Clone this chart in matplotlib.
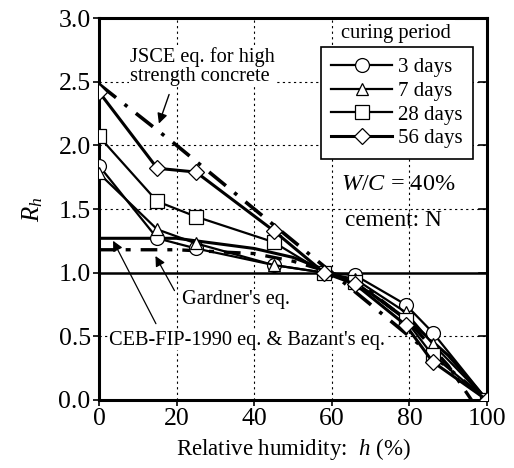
import matplotlib
matplotlib.use("Agg")
import matplotlib.pyplot as plt

plt.rcParams['font.family'] = ['Liberation Serif', 'DejaVu Serif']
plt.rcParams['mathtext.fontset'] = 'custom'
plt.rcParams['mathtext.rm'] = 'Liberation Serif'
plt.rcParams['mathtext.it'] = 'Liberation Serif:italic'

# measured data
h_meas = [0, 15, 25, 45, 58, 66, 79, 86, 100]
r_3d = [1.84, 1.27, 1.19, 1.06, 1.00, 0.98, 0.75, 0.53, 0.00]
r_7d = [1.78, 1.34, 1.23, 1.06, 1.00, 0.95, 0.69, 0.44, 0.00]
r_28d = [2.07, 1.56, 1.44, 1.24, 1.00, 0.93, 0.63, 0.35, 0.00]
r_56d = [2.42, 1.82, 1.79, 1.33, 1.00, 0.91, 0.59, 0.30, 0.00]

# prediction equations
h_jsce = [0, 20, 40, 60, 80, 100]
r_jsce = [2.48, 2.0, 1.5, 1.0, 0.5, 0.0]
h_gard = [0, 20, 40, 50, 60, 70, 80, 90, 96]
r_gard = [1.18, 1.18, 1.15, 1.09, 1.00, 0.85, 0.61, 0.27, 0.0]
h_ceb = [0, 20, 40, 50, 60, 70, 80, 90, 100]
r_ceb = [1.27, 1.27, 1.19, 1.12, 1.00, 0.84, 0.62, 0.35, 0.0]

series_labels = ['3 days', '7 days', '28 days', '56 days']
markers = ['o', '^', 's', 'D']

fig = plt.figure(figsize=(5.14, 4.68), dpi=100)
ax = fig.add_axes([0.1926, 0.1453, 0.7549, 0.8162])
ax.set_xlim(0, 100)
ax.set_ylim(0, 3.0)

for x in [20, 40, 60, 80]:
    ax.axvline(x, color='black', lw=0.8, ls=(0, (2, 3)), zorder=0)
for y in [0.5, 1.5, 2.0, 2.5]:
    ax.axhline(y, color='black', lw=0.8, ls=(0, (2, 3)), zorder=0)
ax.axhline(1.0, color='black', lw=1.8, zorder=1)

# equations
ax.plot(h_jsce, r_jsce, color='black', lw=2.6, ls=(0, (6, 3, 1, 3)), zorder=2)
ax.plot(h_gard, r_gard, color='black', lw=2.4, ls=(0, (5, 3, 1.5, 3)), zorder=2)
ax.plot(h_ceb, r_ceb, color='black', lw=2.2, zorder=2)

series = [r_3d, r_7d, r_28d, r_56d]
lws = [1.6, 1.6, 1.6, 2.2]
sizes = [10, 9, 10, 8]
handles = []
for r, m, lab, lw, ms in zip(series, markers, series_labels, lws, sizes):
    ln, = ax.plot(h_meas, r, color='black', lw=lw, marker=m, ms=ms,
                  mfc='white', mec='black', mew=0.9, label=lab, zorder=3)
    handles.append(ln)

for s in ax.spines.values():
    s.set_linewidth(2.2)

ax.set_xticks([0, 20, 40, 60, 80, 100])
ax.set_yticks([0.0, 0.5, 1.0, 1.5, 2.0, 2.5, 3.0])
ax.set_yticklabels(['0.0', '0.5', '1.0', '1.5', '2.0', '2.5', '3.0'])
ax.tick_params(axis='both', labelsize=18.5, direction='out', length=4, width=1.2, pad=2)
# right inward ticks
for y in [0.5, 1.0, 1.5, 2.0, 2.5]:
    ax.plot([98, 100], [y, y], color='black', lw=1.2, clip_on=False, zorder=4)

ax.set_xlabel('Relative humidity:  $\\mathit{h}$ (%)', fontsize=16.5, labelpad=4)
ax.set_ylabel('$\\mathit{R_h}$', fontsize=18, labelpad=10)

leg = ax.legend(handles=handles, loc='upper right', bbox_to_anchor=(0.964, 0.924),
                borderaxespad=0,
                fontsize=15, frameon=True, fancybox=False, edgecolor='black',
                framealpha=1, handlelength=2.9, handletextpad=0.3,
                labelspacing=0.2, borderpad=0.5)
leg.get_frame().set_linewidth(1.2)

ax.text(76.5, 2.88, 'curing period', fontsize=14.8, ha='center', va='center',
        bbox=dict(facecolor='white', edgecolor='none', pad=3), zorder=5)

ax.text(8, 2.62, 'JSCE eq. for high\nstrength concrete', fontsize=14.7,
        ha='left', va='center', linespacing=1.05,
        bbox=dict(facecolor='white', edgecolor='none', pad=0.5), zorder=5)
ax.annotate('', xy=(15.2, 2.15), xytext=(18.3, 2.42),
            arrowprops=dict(arrowstyle='-|>', color='black', lw=1.0,
                            mutation_scale=15), zorder=5)

ax.text(62.3, 1.69, '$\\mathit{W/C}$ = 40%', fontsize=17.5, ha='left', va='center')
ax.text(63.5, 1.41, 'cement: N', fontsize=16.8, ha='left', va='center')

ax.text(21.5, 0.79, "Gardner's eq.", fontsize=14.7, ha='left', va='center',
        bbox=dict(facecolor='white', edgecolor='none', pad=0.5), zorder=5)
ax.annotate('', xy=(14.2, 1.15), xytext=(19.8, 0.84),
            arrowprops=dict(arrowstyle='-|>', color='black', lw=0.9,
                            mutation_scale=15), zorder=5)

ax.text(2.6, 0.47, "CEB-FIP-1990 eq. & Bazant's eq.", fontsize=14.7,
        ha='left', va='center',
        bbox=dict(facecolor='white', edgecolor='none', pad=0.5), zorder=5)
ax.annotate('', xy=(3.3, 1.27), xytext=(15, 0.58),
            arrowprops=dict(arrowstyle='-|>', color='black', lw=0.9,
                            mutation_scale=15), zorder=5)

fig.savefig('out.png', dpi=100)
